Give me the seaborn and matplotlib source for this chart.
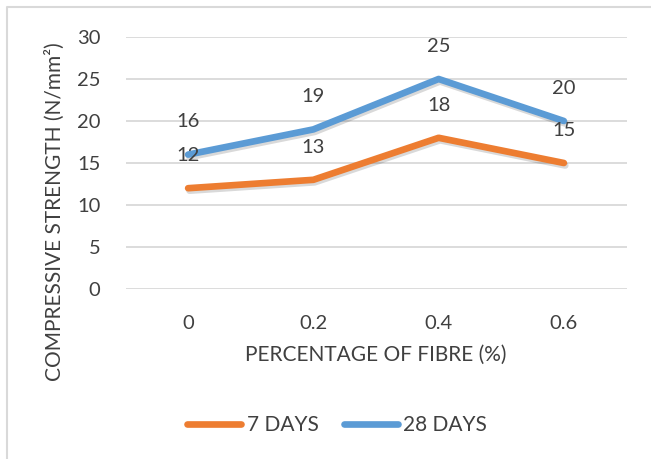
import matplotlib
matplotlib.use("Agg")
import matplotlib.pyplot as plt
import matplotlib.patheffects as pe
from matplotlib.lines import Line2D
import seaborn as sns
import pandas as pd

categories = ["0", "0.2", "0.4", "0.6"]
days7 = [12, 13, 18, 15]
days28 = [16, 19, 25, 20]
series_names = ["7 DAYS", "28 DAYS"]
yticks = [0, 5, 10, 15, 20, 25, 30]

df = pd.DataFrame({
    "fibre": categories * 2,
    "strength": days7 + days28,
    "series": [series_names[0]] * 4 + [series_names[1]] * 4,
})

sns.set_theme(style="white")
plt.rcParams['font.family'] = ['Lato', 'DejaVu Sans']

W, H = 651, 459
fig = plt.figure(figsize=(W / 100, H / 100), dpi=100)
ax = fig.add_axes([125.5 / W, 1 - 289 / H, 501 / W, 252 / H])

palette = {"7 DAYS": "#ED7D31", "28 DAYS": "#5B9BD5"}
sns.lineplot(data=df, x="fibre", y="strength", hue="series", palette=palette,
             ax=ax, linewidth=4.8, legend=False, sort=False)
for ln in ax.get_lines():
    ln.set_solid_capstyle("round")
    ln.set_path_effects([pe.SimpleLineShadow(offset=(1.0, -1.8), alpha=0.15, shadow_color="black"),
                         pe.Normal()])

text_color = "#404040"
for vals in (days7, days28):
    for i, v in enumerate(vals):
        ax.annotate(str(v), (i, v), xytext=(0, 23.5), textcoords="offset points",
                    ha="center", va="center", fontsize=14.5, color=text_color)

ax.set_ylim(0, 30)
ax.set_xlim(-0.5, 3.5)
ax.set_yticks(yticks)
ax.yaxis.grid(True, color="#D9D9D9", linewidth=1.3)
ax.xaxis.grid(False)
ax.set_axisbelow(True)
for s in ax.spines.values():
    s.set_visible(False)
ax.tick_params(axis="both", length=0, labelsize=14.5, labelcolor=text_color)
ax.tick_params(axis="y", pad=18)
ax.tick_params(axis="x", pad=19)
ax.set_xlabel("")
ax.set_ylabel("")

fig.text(376 / W, 1 - 355 / H, "PERCENTAGE OF FIBRE (%)", fontsize=15, color=text_color,
         ha="center", va="center")
fig.text(55 / W, 1 - 212 / H, "COMPRESSIVE STRENGTH (N/mm²)", fontsize=15, color=text_color,
         ha="center", va="center", rotation=90)

handles = [Line2D([0], [0], color=palette[n], linewidth=4.8, solid_capstyle="round") for n in series_names]
fig.legend(handles, series_names, loc="center", bbox_to_anchor=(337 / W, 1 - 425 / H),
           ncol=2, frameon=False, fontsize=15, handlelength=2.6, handletextpad=0.25,
           columnspacing=1.2, labelcolor=text_color, borderpad=0, borderaxespad=0)

border = Line2D([7 / W, 7 / W, 1.0], [0.0, 1 - 7 / H, 1 - 7 / H],
                transform=fig.transFigure, color="#D9D9D9", linewidth=1.5)
fig.add_artist(border)

fig.savefig("out.png", dpi=100)
